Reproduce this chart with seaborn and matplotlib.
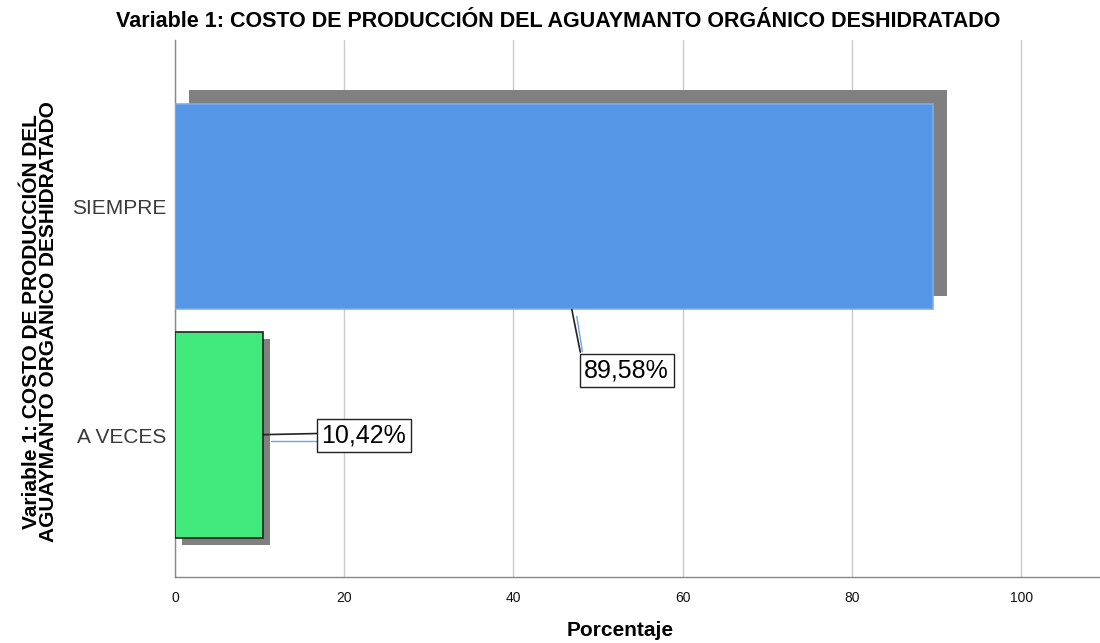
import matplotlib
matplotlib.use("Agg")
import matplotlib.pyplot as plt
import seaborn as sns
import pandas as pd

# Data
categories = ["SIEMPRE", "A VECES"]
percentages = [89.58, 10.42]
x_ticks = [0, 20, 40, 60, 80, 100]

title = "Variable 1: COSTO DE PRODUCCIÓN DEL AGUAYMANTO ORGÁNICO DESHIDRATADO"
y_title = "Variable 1: COSTO DE PRODUCCIÓN DEL\nAGUAYMANTO ORGÁNICO DESHIDRATADO"
x_title = "Porcentaje"

bar_colors = ["#5596E6", "#41E87B"]
bar_edges = ["#7AAEEE", "#222222"]
shadow_color = "#808080"

sns.set_theme(style="white")
plt.rcParams["font.family"] = ["Liberation Sans", "DejaVu Sans"]
plt.rcParams["text.color"] = "black"
plt.rcParams["axes.labelcolor"] = "black"

df = pd.DataFrame({"cat": categories, "pct": percentages})

fig = plt.figure(figsize=(11, 6.43), dpi=100)
ax = fig.add_axes([0.159, 0.103, 0.841, 0.835])

sns.barplot(data=df, x="pct", y="cat", hue="cat", palette=bar_colors,
            saturation=1, orient="h", width=0.9, legend=False, ax=ax, zorder=3)

bar_h = 0.9
# drop shadows behind each bar
shadow_shift = [(1.65, -0.061), (0.83, 0.031)]
for i, (v, (dx, dy)) in enumerate(zip(percentages, shadow_shift)):
    ax.barh(i + dy, v, left=dx, height=bar_h, color=shadow_color,
            zorder=2, linewidth=0)

for patch, ec in zip(ax.patches[:len(categories)], bar_edges):
    patch.set_edgecolor(ec)
    patch.set_linewidth(1.2)

ax.set_xlim(0, 109.3)
ax.set_ylim(1.62, -0.73)
ax.set_xticks(x_ticks)
ax.set_xticklabels([str(t) for t in x_ticks], fontsize=10, color="#111111")
ax.tick_params(axis="y", labelsize=15, labelcolor="#3A3A3A", length=0, pad=6)
ax.tick_params(axis="x", length=0, pad=10)

ax.xaxis.grid(True, color="#CCCCCC", linewidth=1.0, zorder=0)
ax.set_axisbelow(True)
for s in ["top", "right"]:
    ax.spines[s].set_visible(False)
for s in ["left", "bottom"]:
    ax.spines[s].set_color("#888888")
    ax.spines[s].set_linewidth(1.0)

ax.set_xlabel(x_title, fontsize=15, fontweight="bold")
ax.xaxis.set_label_coords(0.481, -0.082)
ax.set_ylabel(y_title, fontsize=15, fontweight="bold", linespacing=0.88)
ax.yaxis.set_label_coords(-0.126, 0.475)
fig.text(0.507, 0.967, title, ha="center", va="center",
         fontsize=15.5, fontweight="bold", color="black")

# value labels with leader lines
labels = [f"{v:.2f}".replace(".", ",") + "%" for v in percentages]
box = dict(boxstyle="square,pad=0.18", facecolor="white",
           edgecolor="#222222", linewidth=1.0)

# SIEMPRE
v0 = percentages[0]
ax.plot([v0 * 0.5235, v0 * 0.5347], [0.45, 0.637], color="#222222", lw=1.2, zorder=5)
ax.plot([v0 * 0.530, v0 * 0.5375], [0.48, 0.635], color="#6FA2E8", lw=1.0, zorder=5)
ax.text(v0 * 0.540, 0.718, labels[0], fontsize=18, va="center", ha="left",
        bbox=box, zorder=6, color="black")

# A VECES
v1 = percentages[1]
ax.plot([v1, v1 + 6.4], [0.998, 0.993], color="#222222", lw=1.2, zorder=5)
ax.plot([v1 + 0.9, v1 + 6.4], [1.027, 1.027], color="#6FA2E8", lw=1.0, zorder=5)
ax.text(v1 + 6.9, 1.0, labels[1], fontsize=18, va="center", ha="left",
        bbox=box, zorder=6, color="black")

fig.savefig("out.png", dpi=100)
